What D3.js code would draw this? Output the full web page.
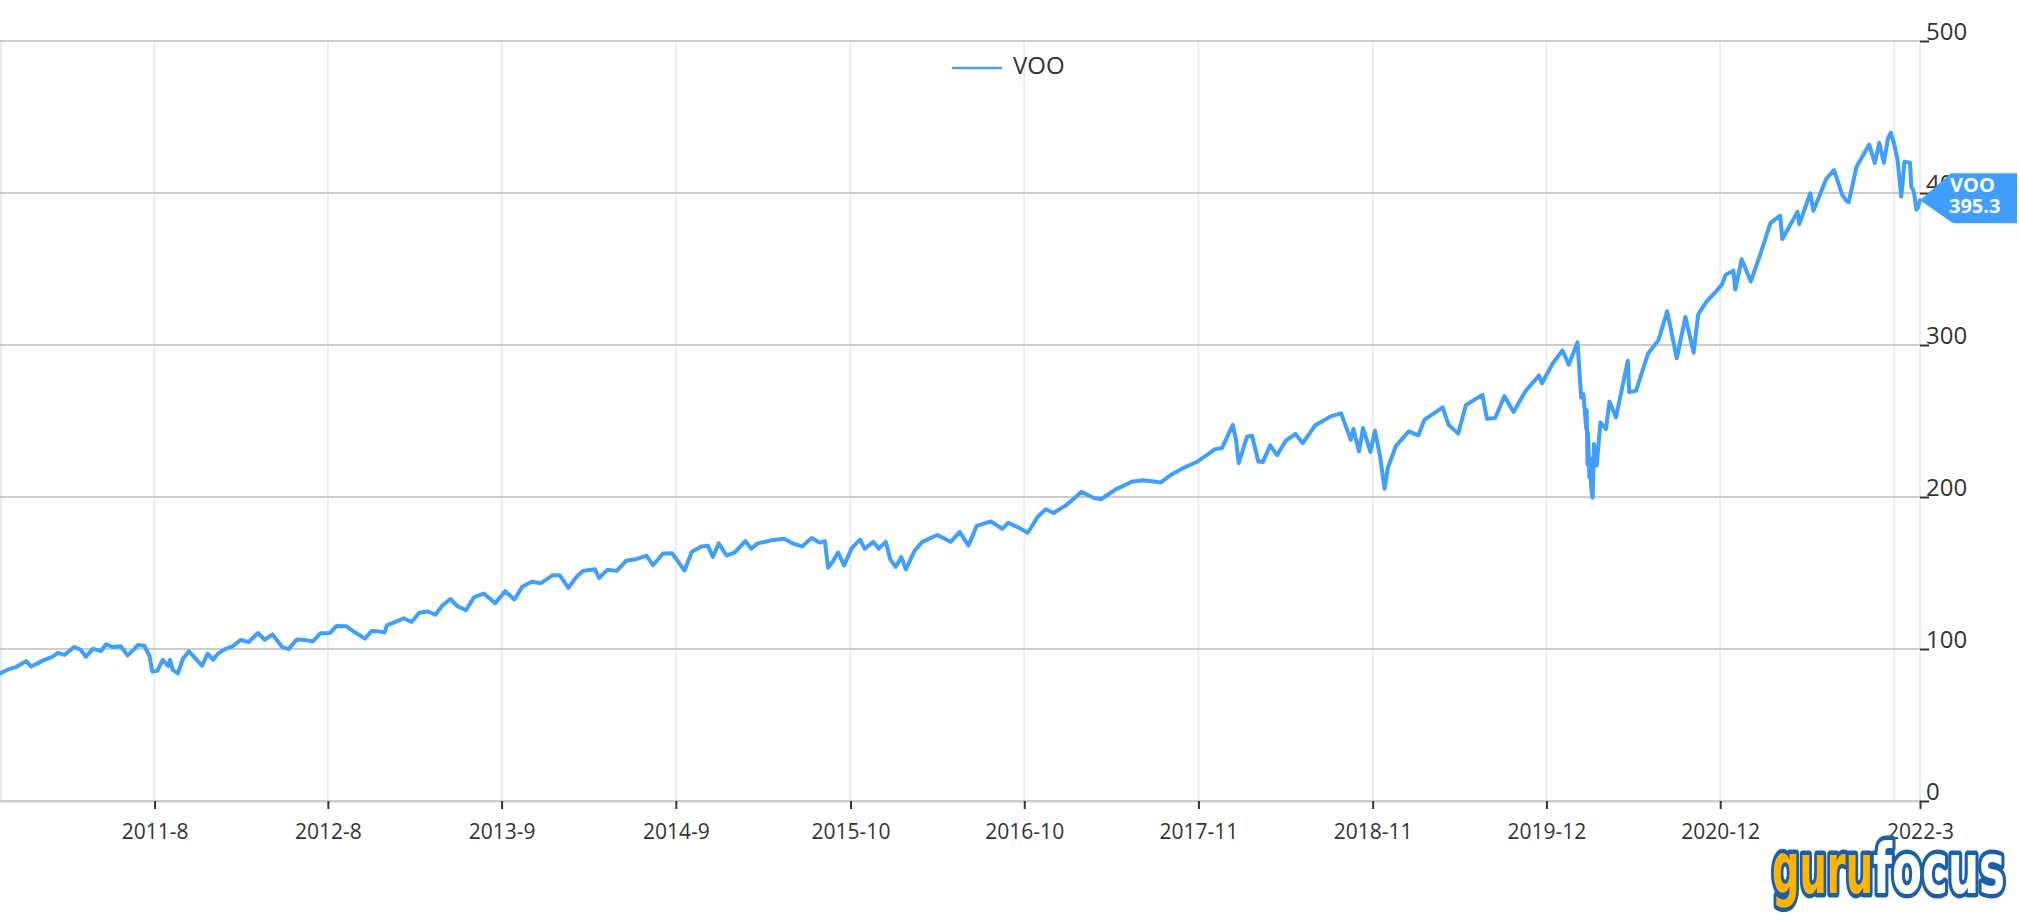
<!DOCTYPE html>
<html>
<head>
<meta charset="utf-8">
<script src="https://cdn.jsdelivr.net/npm/d3@7"></script>
<style>
html,body{margin:0;padding:0;background:#fff;overflow:hidden}
text{font-family:"Open Sans","Noto Sans","DejaVu Sans",sans-serif}
</style>
</head>
<body>
<svg id="chart" width="2019" height="920"></svg>
<script>
// ---------------- data ----------------
const seriesName = "VOO";

const dates = [
"2010-09-09","2010-09-24","2010-10-15","2010-11-05","2010-11-16","2010-12-01","2010-12-15","2010-12-31",
"2011-01-14","2011-01-28","2011-02-18","2011-03-04","2011-03-16","2011-03-31","2011-04-18","2011-04-29",
"2011-05-13","2011-05-31","2011-06-15","2011-06-30","2011-07-07","2011-07-22","2011-08-02","2011-08-08",
"2011-08-19","2011-08-31","2011-09-12","2011-09-16","2011-09-22","2011-10-03","2011-10-14","2011-10-27",
"2011-11-09","2011-11-25","2011-12-07","2011-12-19","2011-12-30",
"2012-01-13","2012-01-31","2012-02-17","2012-03-06","2012-03-26","2012-04-10","2012-04-27","2012-05-18",
"2012-06-01","2012-06-19","2012-07-06","2012-07-24","2012-08-10","2012-08-31","2012-09-14","2012-10-05",
"2012-10-24","2012-11-15","2012-11-30","2012-12-14","2012-12-28",
"2013-01-02","2013-01-18","2013-02-08","2013-02-25","2013-03-14","2013-04-02","2013-04-18","2013-05-03",
"2013-05-21","2013-06-05","2013-06-24","2013-07-12","2013-08-02","2013-08-27","2013-09-18","2013-10-08",
"2013-10-25","2013-11-15","2013-12-05","2013-12-31",
"2014-01-15","2014-02-03","2014-02-20","2014-03-07","2014-04-02","2014-04-11","2014-04-30","2014-05-20",
"2014-06-09","2014-06-30","2014-07-24","2014-08-07","2014-08-29","2014-09-18","2014-10-15","2014-10-31",
"2014-11-21","2014-12-05","2014-12-16","2014-12-29",
"2015-01-15","2015-02-02","2015-02-25","2015-03-10","2015-03-24","2015-04-24","2015-05-21","2015-06-08",
"2015-06-29","2015-07-20","2015-08-06","2015-08-18","2015-08-25","2015-09-04","2015-09-16","2015-09-29",
"2015-10-16","2015-11-03","2015-11-13","2015-12-02","2015-12-14","2015-12-29",
"2016-01-08","2016-01-20","2016-02-01","2016-02-11","2016-03-01","2016-03-18","2016-04-20","2016-05-19",
"2016-06-08","2016-06-27","2016-07-15","2016-08-15","2016-09-09","2016-09-22","2016-10-14","2016-11-04",
"2016-11-25","2016-12-13","2016-12-30",
"2017-01-26","2017-02-15","2017-03-01","2017-03-27","2017-04-13","2017-05-15","2017-06-19","2017-07-14",
"2017-08-10","2017-08-21","2017-09-15","2017-10-13","2017-11-08","2017-11-30","2017-12-18",
"2018-01-02","2018-01-26","2018-02-02","2018-02-08","2018-02-26","2018-03-09","2018-03-23","2018-04-02",
"2018-04-18","2018-05-03","2018-05-21","2018-06-12","2018-06-28","2018-07-25","2018-08-29","2018-09-20",
"2018-10-11","2018-10-17","2018-10-29","2018-11-07","2018-11-23","2018-12-03","2018-12-14","2018-12-24",
"2018-12-31",
"2019-01-18","2019-02-15","2019-03-08","2019-03-21","2019-04-30","2019-05-13","2019-06-03","2019-06-20",
"2019-07-26","2019-08-05","2019-08-23","2019-09-12","2019-10-02","2019-10-28","2019-11-27","2019-12-03",
"2019-12-27",
"2020-01-17","2020-01-31","2020-02-19","2020-02-27","2020-03-03","2020-03-09","2020-03-10","2020-03-12",
"2020-03-13","2020-03-16","2020-03-17","2020-03-20","2020-03-23","2020-03-26","2020-04-01","2020-04-09",
"2020-04-21","2020-04-29","2020-05-13","2020-06-08","2020-06-11","2020-06-26","2020-07-22","2020-08-14",
"2020-09-02","2020-09-23","2020-10-12","2020-10-30","2020-11-09","2020-11-27","2020-12-18","2020-12-31",
"2021-01-08","2021-01-25","2021-01-29","2021-02-12","2021-03-04","2021-03-26","2021-04-16","2021-05-07",
"2021-05-12","2021-06-14","2021-06-18","2021-07-12","2021-07-19","2021-08-16","2021-09-02","2021-09-20",
"2021-09-30","2021-10-04","2021-10-21","2021-11-18","2021-11-30","2021-12-10","2021-12-20","2021-12-29",
"2022-01-04","2022-01-11","2022-01-19","2022-01-27","2022-01-31","2022-02-03","2022-02-15","2022-02-18",
"2022-02-22","2022-02-24","2022-03-01","2022-03-04","2022-03-09"
];

const voo = [
83.9,86.2,88.3,92.0,88.5,90.7,92.9,94.6,
97.4,96.1,101.3,99.6,94.9,100.1,98.7,103.1,
101.3,101.8,95.8,100.1,102.6,102.1,95.3,85.2,
85.6,92.9,88.7,92.8,86.1,84.0,93.6,98.4,
94.3,89.0,97.0,92.9,97.0,
99.8,101.8,105.9,104.6,110.5,106.1,109.6,101.3,
99.9,106.3,106.0,104.9,110.4,110.5,115.2,115.0,
111.0,106.8,111.9,111.6,110.9,
115.5,117.5,120.2,117.8,123.9,124.7,122.5,128.5,
132.9,128.2,125.5,134.1,136.5,130.2,138.0,132.6,
140.9,144.2,143.3,148.6,
148.6,140.2,147.2,151.4,152.5,146.7,152.2,151.4,
158.0,159.0,161.4,155.1,162.8,163.0,151.6,164.0,
167.5,168.0,160.5,169.5,
161.5,163.5,171.0,166.0,169.5,171.5,172.5,169.5,
167.5,173.0,170.0,171.0,153.5,157.5,163.5,155.0,
166.5,172.0,166.0,170.5,166.0,170.5,
159.0,154.0,160.5,152.4,164.5,170.5,175.0,170.5,
177.0,168.0,181.0,184.0,179.0,183.0,180.0,176.5,
186.8,191.9,189.5,
194.5,199.5,203.5,199.5,198.5,205.0,210.0,211.0,
210.0,209.5,215.0,219.5,223.0,227.5,231.5,
232.0,247.4,237.8,222.2,239.6,240.4,223.3,223.1,
234.0,227.5,236.7,241.5,235.5,247.0,253.2,255.0,
237.7,244.8,230.0,245.4,229.6,243.6,227.0,205.5,
219.1,
233.7,243.2,240.6,250.7,259.0,247.5,241.7,260.5,
267.2,251.4,252.0,266.4,255.9,269.6,280.0,274.7,
288.0,
296.4,287.1,301.7,265.4,267.6,245.0,257.1,221.3,
241.8,212.8,225.6,205.6,199.5,234.9,220.7,249.1,
244.7,262.8,252.4,289.6,269.0,269.9,294.2,303.2,
322.2,291.3,318.4,295.0,320.2,328.5,335.3,339.9,
346.2,348.9,336.5,356.4,341.8,360.8,380.4,385.1,
369.7,387.6,379.5,399.8,388.3,409.4,415.1,398.8,
394.5,393.9,417.1,431.9,419.7,433.0,419.8,436.0,
439.7,432.7,421.7,397.6,410.0,420.6,420.0,404.0,
402.0,400.0,389.0,390.0,395.3
];

const yTicks = [0, 100, 200, 300, 400, 500];
const xTickDates = ["2011-08-13","2012-08-26","2013-09-10","2014-09-26","2015-10-13","2016-10-27",
                    "2017-11-12","2018-11-28","2019-12-13","2020-12-27","2022-01-12","2022-03-09"];
const xTickLabels = ["2011-8","2012-8","2013-9","2014-9","2015-10","2016-10",
                     "2017-11","2018-11","2019-12","2020-12","","2022-3"];

// ---------------- layout / style ----------------
const W = 2019, H = 920;
const plot = {left: 0, right: 1920, top: 41, bottom: 801};
const lineColor = "#409eff";
const textColor = "#333333";

const svg = d3.select("#chart");
svg.append("rect").attr("width", W).attr("height", H).attr("fill", "#fff");

const parse = d3.timeParse("%Y-%m-%d");
const data = dates.map((d, i) => ({date: parse(d), value: voo[i]}));
const tickDates = xTickDates.map(parse);

const x = d3.scaleTime()
  .domain([data[0].date, data[data.length - 1].date])
  .range([plot.left, plot.right]);
const y = d3.scaleLinear().domain([0, 500]).range([plot.bottom, plot.top]);

// vertical grid lines
const vGrid = svg.append("g");
vGrid.append("line")
  .attr("x1", 1).attr("x2", 1).attr("y1", plot.top).attr("y2", plot.bottom)
  .attr("stroke", "#e7ecf1").attr("stroke-width", 2);
vGrid.selectAll("line.v").data(tickDates).join("line")
  .attr("class", "v")
  .attr("x1", d => x(d)).attr("x2", d => x(d))
  .attr("y1", plot.top).attr("y2", plot.bottom)
  .attr("stroke", "#e7ecf1").attr("stroke-width", 2);

// horizontal grid lines
svg.append("g").selectAll("line").data(yTicks).join("line")
  .attr("x1", plot.left).attr("x2", plot.right)
  .attr("y1", d => y(d)).attr("y2", d => y(d))
  .attr("stroke", "#cccccc").attr("stroke-width", 2);

// x axis
const xAxis = d3.axisBottom(x)
  .tickValues(tickDates)
  .tickFormat((d, i) => xTickLabels[i])
  .tickSize(8).tickSizeOuter(0);
const gx = svg.append("g").attr("transform", `translate(0,${plot.bottom})`).call(xAxis);
gx.select(".domain").attr("stroke", "#cccccc").attr("stroke-width", 2);
gx.selectAll(".tick line").attr("stroke", textColor).attr("stroke-width", 2)
  .attr("display", (d, i) => xTickLabels[i] === "" ? "none" : null);
gx.selectAll(".tick text")
  .attr("y", 38).attr("dy", 0)
  .attr("fill", textColor)
  .style("font-size", "21px")
  .style("font-family", "'Open Sans','Noto Sans',sans-serif");

// y axis (right)
const yAxis = d3.axisRight(y).tickValues(yTicks).tickSize(9).tickFormat(d3.format("d"));
const gy = svg.append("g").attr("transform", `translate(${plot.right},0)`).call(yAxis);
gy.select(".domain").remove();
gy.selectAll(".tick line").attr("stroke", textColor).attr("stroke-width", 2);
gy.selectAll(".tick text")
  .attr("x", 6).attr("dy", "-2px")
  .attr("text-anchor", "start")
  .attr("fill", textColor)
  .style("font-size", "24px")
  .style("font-family", "'Open Sans','Noto Sans',sans-serif");

// line
const line = d3.line().x(d => x(d.date)).y(d => y(d.value)).curve(d3.curveLinear);
svg.append("path").datum(data)
  .attr("d", line)
  .attr("fill", "none")
  .attr("stroke", lineColor)
  .attr("stroke-width", 4)
  .attr("stroke-linejoin", "round")
  .attr("stroke-linecap", "round");

// legend
const legend = svg.append("g").attr("transform", "translate(952,68)");
legend.append("line").attr("x1", 0).attr("x2", 50).attr("y1", 0).attr("y2", 0)
  .attr("stroke", lineColor).attr("stroke-width", 2.5);
legend.append("text").attr("x", 61).attr("y", 6).attr("fill", textColor)
  .style("font-size", "24px").text(seriesName);

// end label
const last = data[data.length - 1];
const tx = x(last.date), ty = y(last.value);
const endG = svg.append("g");
endG.append("path")
  .attr("d", `M${tx},${ty} L${tx + 31},${ty - 27} L${W - 2},${ty - 27} L${W - 2},${ty + 23} L${tx + 33},${ty + 23} Z`)
  .attr("fill", lineColor);
endG.append("text").attr("x", tx + 30).attr("y", ty - 8)
  .attr("fill", "#fff").style("font-size", "20px").style("font-weight", "bold")
  .text(seriesName);
endG.append("text").attr("x", tx + 29).attr("y", ty + 13)
  .attr("fill", "#fff").style("font-size", "20px").style("font-weight", "bold")
  .text(d3.format(".1f")(last.value));

// logo
const logo = svg.append("g");
const logoFont = "'DejaVu Sans Condensed','Liberation Sans Narrow','DejaVu Sans',sans-serif";
[["guru", 1772, 101, "#ffb400"], ["focus", 1873, 132, "#ffffff"]].forEach(([t, lx, len, fill]) => {
  logo.append("text")
    .attr("x", lx).attr("y", 893)
    .attr("textLength", len).attr("lengthAdjust", "spacingAndGlyphs")
    .attr("fill", fill)
    .attr("stroke", "#1b5ea9").attr("stroke-width", 9).attr("stroke-linejoin", "round")
    .attr("paint-order", "stroke")
    .style("font-family", logoFont).style("font-weight", "bold").style("font-size", "70px")
    .text(t);
});
</script>
</body>
</html>
